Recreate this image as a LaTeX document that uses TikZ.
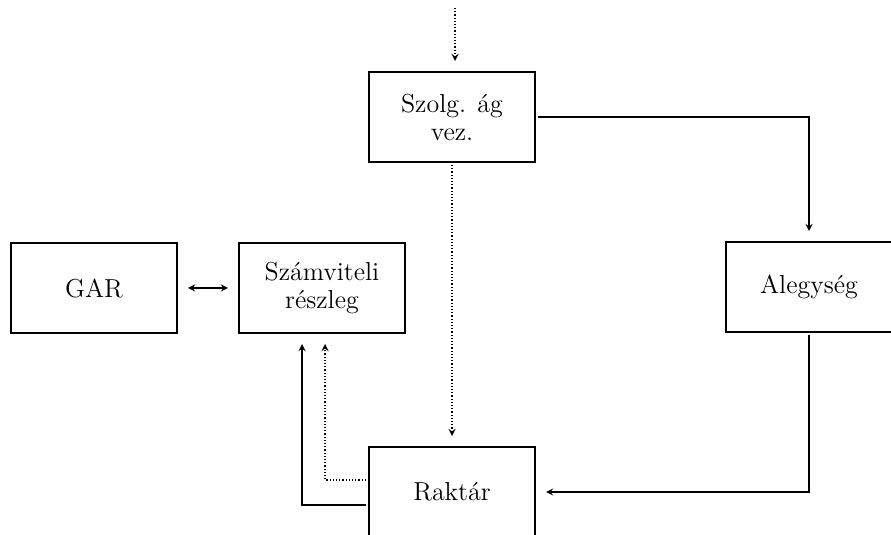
\documentclass[tikz,border=0pt]{standalone}
\usepackage{tikz}
\usetikzlibrary{
    shapes,
    positioning,
    arrows
}
\tikzset{
  unit/.style = {
      draw,
      rectangle,
      line width=0.7pt,
      minimum width=83pt,
      minimum height=45pt,
      outer sep=1.5pt,
      align=center,
      font=\fontsize{13}{14}\selectfont
  },
  flow/.style = {
      line width=0.6pt,
      shorten >=4pt
  },
  info/.style = {
      flow,
      densely dotted
  }
}
\begin{document}
\begin{tikzpicture}[x=0.5pt, y=-0.5pt, >=stealth]
    \useasboundingbox (0,0) rectangle (891,535);
    \clip (0,0) rectangle (891,535);
    \node[unit] (szolg) at (452,117) {Szolg. ág\\vez.};
    \node[unit] (szam) at (322,288) {Számviteli\\részleg};
    \node[unit] (gar) at (94,288) {GAR};
    \node[unit] (aleg) at (809,287) {Alegység};
    \node[unit] (rak) at (452,492) {Raktár};
    \coordinate (in) at (455,8);
    % Edges
    \draw[->, info] (in) -- (in |- szolg.north);
    \draw[->, flow] (szolg.east) -| (aleg);
    \draw[->, flow] (aleg.south) |- (rak.east);
    \draw[->, info] (szolg.south) -- (rak.north);
    \draw[<->, flow, shorten <=4pt] (gar) -- (szam);
    \draw[->, flow] ([yshift=-6.5pt]rak.west) -| ([xshift=-10pt]szam.south);
    \draw[->, info] ([yshift=6pt]rak.west) -| ([xshift=1.5pt]szam.south);
\end{tikzpicture}
\end{document}
